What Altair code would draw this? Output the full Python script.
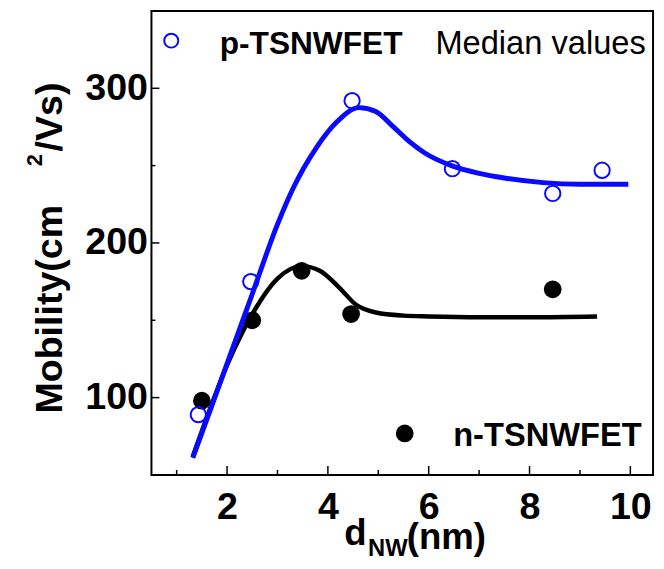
import altair as alt
import pandas as pd

# ---- data (median values) ----
p_x = [1.43, 2.47, 4.48, 6.47, 8.46, 9.44]
p_y = [89, 175, 292, 248, 232, 247]
n_x = [1.50, 2.50, 3.48, 4.46, 8.46]
n_y = [98, 150, 182, 154, 170]

# guide (fit) curves as drawn in the figure
p_fit_x = [1.32, 1.7, 2.0, 2.5, 3.0, 3.32, 3.78, 4.17, 4.62, 4.95, 5.3, 5.6, 5.93, 6.45, 7.0, 7.5, 8.27, 9.0, 9.96]
p_fit_y = [61, 95, 122, 167, 212, 236, 262, 278, 287.5, 285, 275, 266, 258, 250, 245, 242, 239, 238, 238]
n_fit_x = [1.32, 1.7, 2.0, 2.3, 2.5, 3.0, 3.48, 3.84, 4.23, 4.56, 4.95, 5.5, 6.0, 7.0, 8.0, 9.34]
n_fit_y = [62, 96, 121, 142, 154, 177, 185, 182, 171, 160, 155, 153, 152.5, 152, 152, 152.5]

x_major = [2, 4, 6, 8, 10]
x_minor = [1, 3, 5, 7, 9]
y_major = [100, 200, 300]
y_minor = [150, 250]

BLUE = "#0a0aff"
FONT = "Liberation Sans"
W, H = 507, 469

xs = alt.Scale(domain=[0.5, 10.45], nice=False, zero=False)
ys = alt.Scale(domain=[50, 350], nice=False, zero=False)

xaxis = alt.Axis(values=x_major, ticks=False, domain=False, grid=False, labelFontSize=38,
                 labelFontWeight="bold", labelFont=FONT, labelColor="black", labelPadding=14,
                 labelFlush=False, labelOverlap=False)
yaxis = alt.Axis(values=y_major, ticks=False, domain=False, grid=False, labelFontSize=38,
                 labelFontWeight="bold", labelFont=FONT, labelColor="black", labelPadding=4,
                 labelOverlap=False)

X = alt.X("x:Q", scale=xs, axis=xaxis, title=None)
Y = alt.Y("y:Q", scale=ys, axis=yaxis, title=None)

p_df = pd.DataFrame({"x": p_x, "y": p_y})
n_df = pd.DataFrame({"x": n_x, "y": n_y})
pf_df = pd.DataFrame({"x": p_fit_x, "y": p_fit_y})
nf_df = pd.DataFrame({"x": n_fit_x, "y": n_fit_y})

n_line = alt.Chart(nf_df).mark_line(color="black", strokeWidth=4.5, interpolate="monotone").encode(x=X, y=Y)
p_line = alt.Chart(pf_df).mark_line(color=BLUE, strokeWidth=5, interpolate="monotone").encode(x=X, y=Y)
n_pts = alt.Chart(n_df).mark_circle(color="black", size=320, opacity=1).encode(x=X, y=Y)
p_pts = alt.Chart(p_df).mark_point(shape="circle", filled=False, color=BLUE, strokeWidth=2, size=240, opacity=1).encode(x=X, y=Y)

# inward ticks (share the same fields/axes so axes merge)
xt_major = alt.Chart(pd.DataFrame({"x": x_major})).mark_rule(color="black", strokeWidth=1.5).encode(
    x=X, y=alt.value(H), y2=alt.value(H - 9))
xt_minor = alt.Chart(pd.DataFrame({"x": x_minor})).mark_rule(color="black", strokeWidth=1.5).encode(
    x=X, y=alt.value(H), y2=alt.value(H - 5))
yt_major = alt.Chart(pd.DataFrame({"y": y_major})).mark_rule(color="black", strokeWidth=1.5).encode(
    y=Y, x=alt.value(0), x2=alt.value(8))
yt_minor = alt.Chart(pd.DataFrame({"y": y_minor})).mark_rule(color="black", strokeWidth=1.5).encode(
    y=Y, x=alt.value(0), x2=alt.value(4))

def txt(s, x, y, size, weight="bold", angle=0, baseline="alphabetic"):
    return alt.Chart(pd.DataFrame({"t": [s]})).mark_text(
        font=FONT, fontSize=size, fontWeight=weight, color="black", align="left",
        baseline=baseline, angle=angle).encode(text="t:N", x=alt.value(x), y=alt.value(y))

# legend
leg_p = alt.Chart(pd.DataFrame({"a": [0]})).mark_point(shape="circle", filled=False, color=BLUE,
                                                        strokeWidth=2, size=200, opacity=1).encode(
    x=alt.value(20), y=alt.value(30))
leg_n = alt.Chart(pd.DataFrame({"a": [0]})).mark_circle(color="black", size=320, opacity=1).encode(
    x=alt.value(256), y=alt.value(427))

texts = [
    txt("p-TSNWFET", 69, 44, 32),
    txt("Median values", 287, 44, 33, weight="normal"),
    txt("n-TSNWFET", 305, 440, 33),
    # y title
    txt("Mobility(cm", -90, 407, 38, angle=270),
    txt("/Vs)", -90, 142, 38, angle=270),
    txt("2", -111, 157, 22, angle=270),
    # x title
    txt("d", 195, 540, 37),
    txt("NW", 219, 551, 24),
    txt("(nm)", 258, 544, 37),
]

chart = alt.layer(n_line, n_pts, p_line, p_pts, xt_major, xt_minor, yt_major, yt_minor,
                  leg_p, leg_n, *texts).properties(
    width=W, height=H,
    autosize=alt.AutoSizeParams(type="none"),
    padding={"left": 145, "top": 0, "right": 3, "bottom": 84},
).configure(font=FONT).configure_view(stroke="black", strokeWidth=2)

chart.save("out.html", embed_options={"renderer": "svg", "actions": False})
